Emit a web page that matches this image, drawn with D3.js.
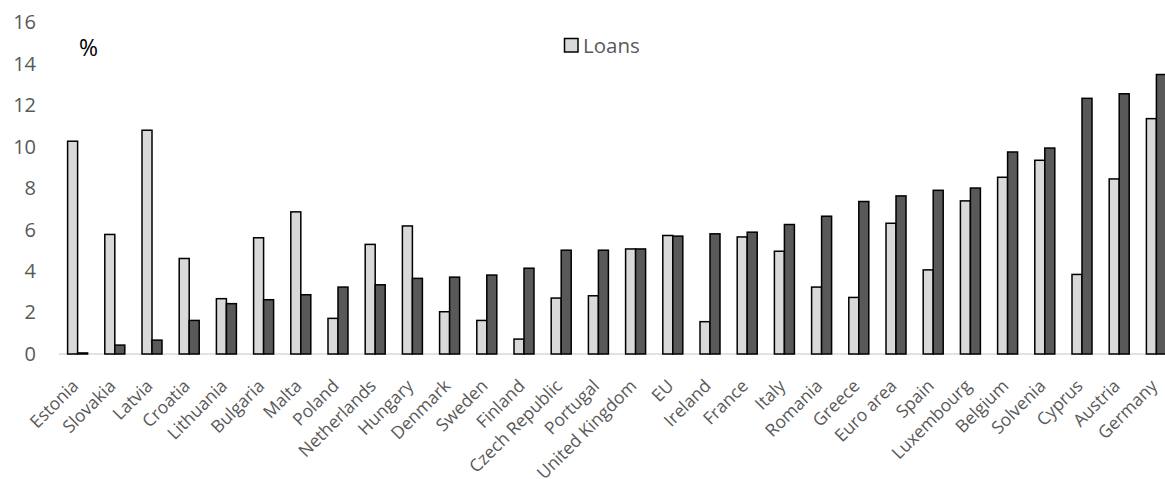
<!DOCTYPE html>
<html>
<head>
<meta charset="utf-8">
<script src="https://cdn.jsdelivr.net/npm/d3@7/dist/d3.min.js"></script>
<style>
  body { margin: 0; background: #fff; }
  svg text { font-family: "Open Sans", sans-serif; }
</style>
</head>
<body>
<div id="chart"></div>
<script>
// Data
const countries = ['Estonia', 'Slovakia', 'Latvia', 'Croatia', 'Lithuania', 'Bulgaria', 'Malta', 'Poland',
  'Netherlands', 'Hungary', 'Denmark', 'Sweden', 'Finland', 'Czech Republic', 'Portugal', 'United Kingdom',
  'EU', 'Ireland', 'France', 'Italy', 'Romania', 'Greece', 'Euro area', 'Spain', 'Luxembourg', 'Belgium',
  'Solvenia', 'Cyprus', 'Austria', 'Germany']
const loans = [10.27, 5.77, 10.8, 4.61, 2.67, 5.61, 6.86, 1.72, 5.29, 6.18, 2.04, 1.62, 0.72, 2.7, 2.81, 5.07,
  5.72, 1.56, 5.65, 4.96, 3.23, 2.73, 6.31, 4.06, 7.39, 8.53, 9.35, 3.84, 8.45, 11.36]
const other = [0.05, 0.43, 0.67, 1.62, 2.43, 2.62, 2.86, 3.23, 3.34, 3.65, 3.71, 3.81, 4.14, 5.01, 5.01, 5.07,
  5.69, 5.8, 5.88, 6.25, 6.65, 7.36, 7.63, 7.9, 8.01, 9.75, 9.94, 12.34, 12.56, 13.49]
const yTicks = [0, 2, 4, 6, 8, 10, 12, 14, 16]

const width = 1165,
height = 479

const svg = d3.select('#chart')
.append('svg')
.attr('width', width)
.attr('height', height)

// Scales
const band = 37.2
const x = d3.scaleBand()
.domain(countries)
.range([59, 59 + countries.length * band])

const x1 = d3.scaleBand()
.domain(['loans', 'other'])
.range([8.6, band - 8.6])

const y = d3.scaleLinear()
.domain([0, 16])
.range([354, 22.5])

// y axis labels (no line)
const yAxis = d3.axisLeft(y).tickValues(yTicks).tickSize(0).tickPadding(0)
const gy = svg.append('g')
.attr('transform', 'translate(36,0)')
.call(yAxis)
gy.select('.domain').remove()
gy.selectAll('text')
.style('font-size', '20px')
.attr('fill', '#595959')

// baseline
svg.append('line')
.attr('x1', x.range()[0])
.attr('x2', x.range()[1])
.attr('y1', y(0))
.attr('y2', y(0))
.attr('stroke', '#d9d9d9')
.attr('stroke-width', 1.5)

// bars
const groups = svg.selectAll('g.country')
.data(countries)
.enter()
.append('g')
.attr('class', 'country')
.attr('transform', d => `translate(${x(d)},0)`)

groups.append('rect')
.attr('x', x1('loans'))
.attr('y', (d, i) => y(loans[i]))
.attr('width', x1.bandwidth())
.attr('height', (d, i) => y(0) - y(loans[i]))
.attr('fill', '#d9d9d9')
.attr('stroke', '#000')
.attr('stroke-width', 1.5)

groups.append('rect')
.attr('x', x1('other'))
.attr('y', (d, i) => y(other[i]))
.attr('width', x1.bandwidth())
.attr('height', (d, i) => y(0) - y(other[i]))
.attr('fill', '#595959')
.attr('stroke', '#000')
.attr('stroke-width', 1.5)

// category labels
const xAxis = d3.axisBottom(x).tickSize(0).tickPadding(0)
const gx = svg.append('g')
.attr('transform', `translate(0,${y(0)})`)
.call(xAxis)
gx.select('.domain').remove()
gx.selectAll('text')
.attr('fill', '#595959')
.style('font-size', '17.5px')
.style('text-anchor', 'end')
.attr('dy', 0)
.attr('transform', 'translate(2,33) rotate(-45)')

// "%" label
svg.append('text')
.attr('x', 79)
.attr('y', 56)
.style('font-size', '23px')
.attr('fill', '#000')
.text('%')

// legend
svg.append('rect')
.attr('x', 564.5)
.attr('y', 38.5)
.attr('width', 13.5)
.attr('height', 13.5)
.attr('fill', '#d9d9d9')
.attr('stroke', '#000')
.attr('stroke-width', 1.5)
svg.append('text')
.attr('x', 583)
.attr('y', 53)
.style('font-size', '20.5px')
.attr('fill', '#595959')
.text('Loans')
</script>
</body>
</html>
